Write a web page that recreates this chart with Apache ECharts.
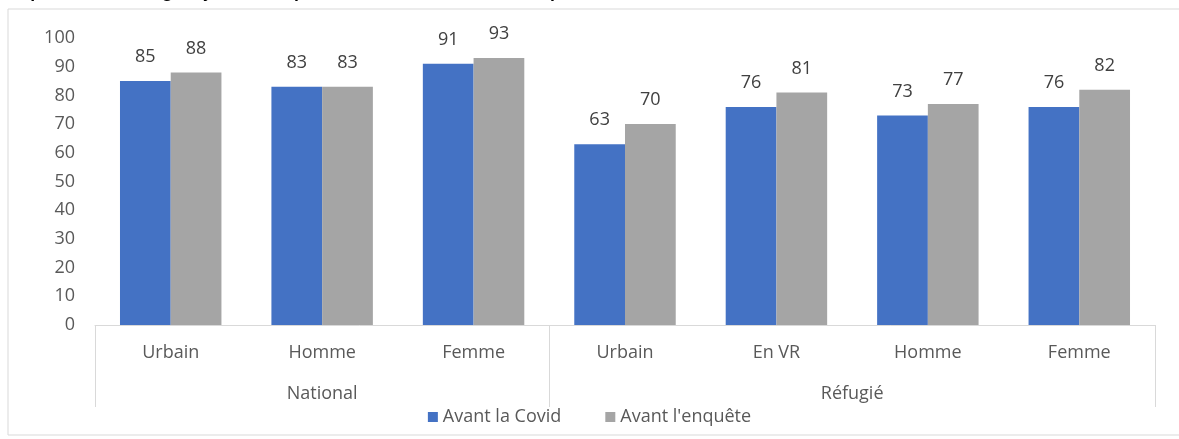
<!DOCTYPE html>
<html>
	<head>
		<meta charset="utf-8" />
		<title></title>
		<script src="https://cdn.jsdelivr.net/npm/echarts@6/dist/echarts.min.js"></script>
		<style>
			html, body { margin: 0; padding: 0; background: #fff; }
			#main { width: 1179px; height: 439px; }
		</style>
	</head>
	<body>
		<div id="main"></div>
		<script>
			// données
			var categories = ['Urbain', 'Homme', 'Femme', 'Urbain', 'En VR', 'Homme', 'Femme'];
			var groups = ['National', 'Réfugié'];
			var groupSizes = [3, 4];
			var avantCovid = [85, 83, 91, 63, 76, 73, 76];
			var avantEnquete = [88, 83, 93, 70, 81, 77, 82];
			var yTicks = [0, 10, 20, 30, 40, 50, 60, 70, 80, 90, 100];

			// positions des séparateurs et des libellés de groupe
			var bounds = [0];
			var centres = [];
			groupSizes.forEach(function (n) {
				var start = bounds[bounds.length - 1];
				centres.push(start + n / 2);
				bounds.push(start + n);
			});

			var font = '"Open Sans", "Noto Sans", sans-serif';
			var fs = 18;
			var mycharts = echarts.init(document.getElementById('main'));

			var option = {
				animation: false,
				color: ['#4472C4', '#A5A5A5'],
				textStyle: { fontFamily: font },
				title: {
					text: "Proportion de ménages ayant un emploi avant la Covid et avant l'enquête (%)",
					left: -2,
					top: -21,
					textStyle: { fontSize: 16, fontWeight: 'bold', color: '#000', fontFamily: font }
				},
				graphic: [{
					type: 'rect',
					shape: { x: 8, y: 9, width: 1200, height: 426 },
					style: { fill: 'none', stroke: '#d9d9d9', lineWidth: 1 },
					silent: true
				}],
				legend: {
					data: ['Avant la Covid', "Avant l'enquête"],
					bottom: 8,
					left: 'center',
					icon: 'rect',
					itemWidth: 10,
					itemHeight: 10,
					itemGap: 44,
					textStyle: { fontSize: fs, color: '#595959', fontFamily: font }
				},
				grid: { left: 95, right: 24, top: 38, bottom: 114 },
				xAxis: [
					{
						type: 'category',
						data: categories,
						position: 'bottom',
						axisLine: { show: true, lineStyle: { color: '#d9d9d9' } },
						axisTick: { show: false },
						axisLabel: { color: '#595959', fontSize: fs, margin: 19, fontFamily: font }
					},
					{
						type: 'value',
						min: 0,
						max: bounds[bounds.length - 1],
						position: 'bottom',
						offset: 0,
						axisLine: { show: false },
						splitLine: { show: false },
						axisTick: {
							show: true,
							customValues: bounds,
							length: 82,
							lineStyle: { color: '#d9d9d9' }
						},
						axisLabel: {
							customValues: centres,
							formatter: function (v) {
								return groups[centres.indexOf(v)] || '';
							},
							color: '#595959',
							fontSize: fs,
							margin: 60,
							fontFamily: font
						}
					}
				],
				yAxis: {
					type: 'value',
					min: yTicks[0],
					max: yTicks[yTicks.length - 1],
					interval: 10,
					axisLine: { show: false },
					axisTick: { show: false },
					splitLine: { show: false },
					axisLabel: { color: '#595959', fontSize: fs, margin: 20, fontFamily: font }
				},
				series: [
					{
						name: 'Avant la Covid',
						type: 'bar',
						data: avantCovid,
						barGap: '0%',
						barCategoryGap: '33%',
						label: { show: true, position: 'top', distance: 15, color: '#404040', fontSize: fs, fontFamily: font }
					},
					{
						name: "Avant l'enquête",
						type: 'bar',
						data: avantEnquete,
						barGap: '0%',
						barCategoryGap: '33%',
						label: { show: true, position: 'top', distance: 15, color: '#404040', fontSize: fs, fontFamily: font }
					}
				]
			};
			mycharts.setOption(option);
		</script>
	</body>
</html>
